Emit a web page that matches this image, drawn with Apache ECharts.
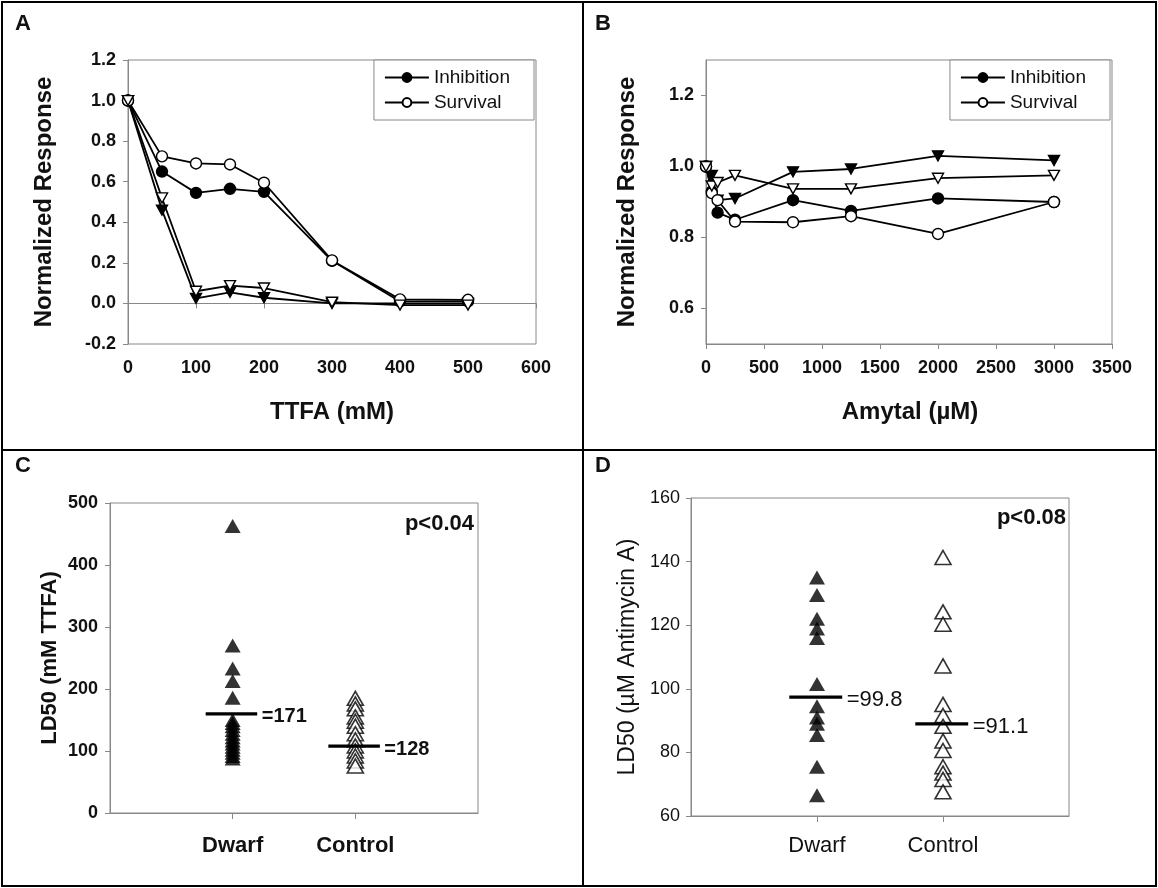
<!DOCTYPE html>
<html><head><meta charset="utf-8">
<script src="https://cdn.jsdelivr.net/npm/echarts@6/dist/echarts.min.js"></script>
<style>html,body{margin:0;padding:0;background:#fff}#c{width:1158px;height:888px}</style>
</head><body><div id="c"></div>
<script>
const FONT = '"Liberation Sans", Arial, Helvetica, sans-serif';

// ---- Panel A: TTFA dose response ----
const ttfaDose = [0, 50, 100, 150, 200, 300, 400, 500];
const ttfaInhibitionCircle = [1.0, 0.65, 0.545, 0.565, 0.55, 0.21, 0.01, 0.01];
const ttfaSurvivalCircle   = [1.0, 0.725, 0.69, 0.685, 0.595, 0.212, 0.02, 0.018];
const ttfaInhibitionTri    = [1.0, 0.46, 0.025, 0.055, 0.028, 0.0, 0.0, 0.0];
const ttfaSurvivalTri      = [1.0, 0.52, 0.06, 0.088, 0.076, 0.006, -0.008, -0.008];

// ---- Panel B: Amytal dose response ----
const amytalDose = [0, 50, 100, 250, 750, 1250, 2000, 3000];
const amytalInhibitionCircle = [1.0, 0.93, 0.87, 0.85, 0.905, 0.875, 0.91, 0.90];
const amytalSurvivalCircle   = [1.0, 0.925, 0.905, 0.845, 0.843, 0.86, 0.81, 0.90];
const amytalInhibitionTri    = [1.0, 0.975, 0.905, 0.91, 0.985, 0.993, 1.03, 1.017];
const amytalSurvivalTri      = [1.0, 0.945, 0.955, 0.975, 0.937, 0.937, 0.967, 0.975];
const amytalTicks = [0.6, 0.8, 1.0, 1.2];

// ---- Panel C: LD50 TTFA ----
const groups = ['Dwarf', 'Control'];
const ld50TtfaDwarf   = [463, 270, 233, 213, 186, 150, 145, 140, 134, 128, 122, 117, 112, 107, 102, 97, 92, 88];
const ld50TtfaControl = [185, 176, 168, 155, 148, 140, 128, 118, 108, 100, 92, 84, 76];
const ld50TtfaMeanLine = [160, 108];
const ld50TtfaMeanText = ['=171', '=128'];
const ld50TtfaP = 'p<0.04';

// ---- Panel D: LD50 Antimycin A ----
const ld50AntiDwarf   = [135, 129.5, 122, 119, 116, 101.5, 94.5, 91, 89, 85.5, 75.5, 66.5];
const ld50AntiControl = [141.3, 124.2, 120.3, 107.2, 95.1, 91.6, 88.2, 83.6, 80.6, 75.5, 73.5, 71.5, 67.6];
const ld50AntiMeanLine = [97.4, 89];
const ld50AntiMeanText = ['=99.8', '=91.1'];
const ld50AntiP = 'p<0.08';

const AX = '#888';
function zip(xs, ys) { return xs.map((x, i) => [x, ys[i]]); }

function lineSeries(name, idx, xs, ys, shape, filled) {
  return {
    name, type: 'line', xAxisIndex: idx, yAxisIndex: idx,
    data: zip(xs, ys),
    symbol: shape === 'tri' ? 'triangle' : 'circle',
    symbolRotate: shape === 'tri' ? 180 : 0,
    symbolSize: shape === 'tri' ? [11, 10] : 11,
    lineStyle: { color: '#000', width: 1.8 },
    itemStyle: { color: filled ? '#000' : '#fff', borderColor: '#000', borderWidth: 1.4 },
    z: filled ? 3 : 4,
    silent: true, animation: false
  };
}

function gridDef(left, top, width, height) {
  return { left, top, width, height, show: true, borderColor: AX, borderWidth: 1, backgroundColor: 'transparent' };
}

function valAxis(idx, min, max, interval, opts) {
  const o = {
    type: 'value', gridIndex: idx, min, max, interval,
    axisLine: { show: true, lineStyle: { color: AX, width: 1 } },
    axisTick: { show: true, inside: false, length: 5, lineStyle: { color: AX } },
    splitLine: { show: false },
    axisLabel: { color: '#111', fontFamily: FONT, fontSize: 18, fontWeight: 'bold', margin: 12 }
  };
  return Object.assign(o, opts || {});
}

function groupAxis(idx, bold, margin) {
  return {
    type: 'value', gridIndex: idx, min: 0, max: 3,
    axisLine: { show: true, lineStyle: { color: AX } },
    axisTick: { show: true, length: 6, lineStyle: { color: AX }, customValues: [1, 2] },
    splitLine: { show: false },
    axisLabel: { customValues: [1, 2], formatter: v => groups[Math.round(v) - 1] || '',
      color: '#111', fontFamily: FONT, fontSize: 22, fontWeight: bold ? 'bold' : 'normal', margin }
  };
}

function scatter(idx, xPos, vals, filled) {
  return {
    type: 'scatter', xAxisIndex: idx, yAxisIndex: idx,
    data: vals.map(v => [xPos, v]), symbol: 'triangle', symbolSize: [16, 14],
    itemStyle: { color: filled ? '#000' : '#fff', borderColor: '#000', borderWidth: filled ? 0 : 1.6 },
    silent: true, animation: false
  };
}

function meanLine(idx, xPos, y, text, bold, fs) {
  return {
    type: 'line', xAxisIndex: idx, yAxisIndex: idx, z: 5,
    symbol: 'circle', symbolSize: 1, showSymbol: true,
    itemStyle: { color: 'rgba(0,0,0,0)' },
    lineStyle: { color: '#000', width: 3.2 },
    data: [
      { value: [xPos - 0.22, y], label: { show: false } },
      { value: [xPos + 0.2, y], label: { show: true, position: 'right', distance: 4,
        formatter: text, color: '#111', fontFamily: FONT, fontSize: fs, fontWeight: bold ? 'bold' : 'normal', offset: [0, 3] } }
    ],
    silent: true, animation: false
  };
}

const chart = echarts.init(document.getElementById('c'), null, { renderer: 'canvas' });

const legendCommon = {
  orient: 'vertical', data: ['Inhibition', 'Survival'], top: 60,
  itemWidth: 44, itemHeight: 11, itemGap: 6,
  padding: [8, 24, 8, 10], borderColor: AX, borderWidth: 1, backgroundColor: '#fff',
  textStyle: { fontFamily: FONT, fontSize: 19, color: '#111' }, selectedMode: false
};

const txt = (x, y, text, size, weight, align, rot) => ({
  type: 'text', x, y, rotation: rot || 0, silent: true,
  style: { text, fontFamily: FONT, fontSize: size, fontWeight: weight, fill: '#111',
    textAlign: align || 'center', textVerticalAlign: 'middle' }
});

const plainNum = v => String(v);

const option = {
  animation: false,
  backgroundColor: '#fff',
  grid: [
    gridDef(128, 60, 408, 284),
    gridDef(706, 60, 406, 284),
    gridDef(110, 503, 368, 310),
    gridDef(691, 498, 378, 318)
  ],
  xAxis: [
    valAxis(0, 0, 600, 100, { axisLabel: { color: '#111', fontFamily: FONT, fontSize: 18, fontWeight: 'bold', margin: 15, formatter: plainNum } }),
    valAxis(1, 0, 3500, 500, { axisLabel: { color: '#111', fontFamily: FONT, fontSize: 18, fontWeight: 'bold', margin: 15, formatter: plainNum } }),
    groupAxis(2, true, 22),
    groupAxis(3, false, 19)
  ],
  yAxis: [
    valAxis(0, -0.2, 1.2, 0.2, { axisLabel: { color: '#111', fontFamily: FONT, fontSize: 18, fontWeight: 'bold', margin: 12,
      formatter: v => v.toFixed(1) } }),
    {
      type: 'value', gridIndex: 1, min: 0.5, max: 1.3,
      axisLine: { show: true, lineStyle: { color: AX } },
      axisTick: { show: true, length: 5, lineStyle: { color: AX }, customValues: amytalTicks },
      splitLine: { show: false },
      axisLabel: { customValues: amytalTicks, formatter: v => v.toFixed(1),
        color: '#111', fontFamily: FONT, fontSize: 18, fontWeight: 'bold', margin: 12 }
    },
    valAxis(2, 0, 500, 100, { axisLabel: { color: '#111', fontFamily: FONT, fontSize: 18, fontWeight: 'bold', margin: 12, formatter: plainNum } }),
    valAxis(3, 60, 160, 20, { axisLabel: { color: '#111', fontFamily: FONT, fontSize: 18, fontWeight: 'normal', margin: 11, formatter: plainNum } })
  ],
  legend: [
    Object.assign({}, legendCommon, { right: 1158 - 534 }),
    Object.assign({}, legendCommon, { right: 1158 - 1110 })
  ],
  series: [
    lineSeries('Inhibition', 0, ttfaDose, ttfaInhibitionCircle, 'circle', true),
    lineSeries('Survival', 0, ttfaDose, ttfaSurvivalCircle, 'circle', false),
    lineSeries('Inhibition ▼', 0, ttfaDose, ttfaInhibitionTri, 'tri', true),
    lineSeries('Survival ▽', 0, ttfaDose, ttfaSurvivalTri, 'tri', false),
    lineSeries('Inhibition', 1, amytalDose, amytalInhibitionCircle, 'circle', true),
    lineSeries('Survival', 1, amytalDose, amytalSurvivalCircle, 'circle', false),
    lineSeries('Inhibition ▼', 1, amytalDose, amytalInhibitionTri, 'tri', true),
    lineSeries('Survival ▽', 1, amytalDose, amytalSurvivalTri, 'tri', false),
    scatter(2, 1, ld50TtfaDwarf, true),
    scatter(2, 2, ld50TtfaControl, false),
    meanLine(2, 1, ld50TtfaMeanLine[0], ld50TtfaMeanText[0], true, 20),
    meanLine(2, 2, ld50TtfaMeanLine[1], ld50TtfaMeanText[1], true, 20),
    scatter(3, 1, ld50AntiDwarf, true),
    scatter(3, 2, ld50AntiControl, false),
    meanLine(3, 1, ld50AntiMeanLine[0], ld50AntiMeanText[0], false, 22),
    meanLine(3, 2, ld50AntiMeanLine[1], ld50AntiMeanText[1], false, 22)
  ],
  graphic: [
    { type: 'rect', shape: { x: 2, y: 2, width: 1154, height: 884 }, style: { fill: 'none', stroke: '#000', lineWidth: 2 }, silent: true },
    { type: 'line', shape: { x1: 583, y1: 2, x2: 583, y2: 886 }, style: { stroke: '#000', lineWidth: 2 }, silent: true },
    { type: 'line', shape: { x1: 2, y1: 450, x2: 1156, y2: 450 }, style: { stroke: '#000', lineWidth: 2 }, silent: true },
    txt(15, 24, 'A', 22, 'bold', 'left'),
    txt(595, 24, 'B', 22, 'bold', 'left'),
    txt(15, 466, 'C', 22, 'bold', 'left'),
    txt(595, 466, 'D', 22, 'bold', 'left'),
    txt(44, 202, 'Normalized Response', 24, 'bold', 'center', Math.PI / 2),
    txt(627, 202, 'Normalized Response', 24, 'bold', 'center', Math.PI / 2),
    txt(332, 412, 'TTFA (mM)', 24, 'bold', 'center'),
    txt(910, 412, 'Amytal (\u00b5M)', 24, 'bold', 'center'),
    txt(50, 658, 'LD50 (mM TTFA)', 22, 'bold', 'center', Math.PI / 2),
    txt(628, 657, 'LD50 (\u00b5M Antimycin A)', 23, 'normal', 'center', Math.PI / 2),
    txt(474, 524, ld50TtfaP, 22, 'bold', 'right'),
    txt(1066, 518, ld50AntiP, 22, 'bold', 'right')
  ]
};
chart.setOption(option);
</script>
</body></html>
